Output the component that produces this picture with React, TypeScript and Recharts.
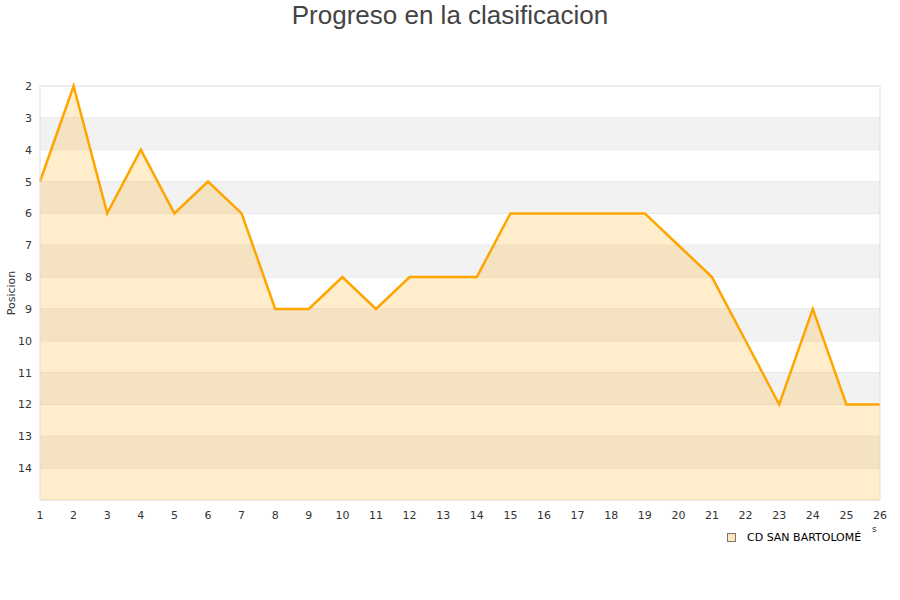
import { AreaChart, Area, XAxis, YAxis, CartesianGrid, ReferenceArea, ReferenceLine } from "recharts";

const jornadas = [1, 2, 3, 4, 5, 6, 7, 8, 9, 10, 11, 12, 13, 14, 15, 16, 17, 18, 19, 20, 21, 22, 23, 24, 25, 26];
const posiciones = [5, 2, 6, 4, 6, 5, 6, 9, 9, 8, 9, 8, 8, 8, 6, 6, 6, 6, 6, 7, 8, 10, 12, 9, 12, 12];
const yTicks = [2, 3, 4, 5, 6, 7, 8, 9, 10, 11, 12, 13, 14, 15];
const bands = [3, 5, 7, 9, 11, 13];

const data = jornadas.map((j, i) => ({ jornada: j, pos: posiciones[i] }));

const FONT = "DejaVu Sans, sans-serif";

const YTick = ({ x, y, payload }: any) => {
  if (payload.value === 15) return null;
  return (
    <text x={x} y={y} dy={4} textAnchor="end" fontSize={11} fill="#333" fontFamily={FONT}>
      {payload.value}
    </text>
  );
};

const XTick = ({ x, y, payload }: any) => (
  <text x={x} y={y} dy={11} textAnchor="middle" fontSize={11} fill="#333" fontFamily={FONT}>
    {payload.value}
  </text>
);

const YLabel = ({ viewBox }: any) => {
  const cy = viewBox.y + viewBox.height / 2;
  return (
    <text x={11} y={cy} transform={`rotate(-90 11 ${cy})`} textAnchor="middle" dominantBaseline="central" fontSize={11} fill="#333" fontFamily={FONT}>
      Posicion
    </text>
  );
};

export default function App() {
  return (
    <div style={{ position: "absolute", left: 0, top: 0, width: 900, height: 600, background: "#fff" }}>
      <div
        style={{
          position: "absolute",
          top: 0,
          width: 900,
          textAlign: "center",
          fontFamily: "Liberation Sans, Arial, sans-serif",
          fontSize: 26,
          color: "#444",
          lineHeight: "30px",
        }}
      >
        Progreso en la clasificacion
      </div>
      <AreaChart width={900} height={600} data={data} margin={{ top: 86, right: 20, bottom: 70, left: 10 }}>
        {bands.map((b) => (
          <ReferenceArea key={b} y1={b} y2={b + 1} fill="#f2f2f2" fillOpacity={1} stroke="none" />
        ))}
        <CartesianGrid vertical={false} stroke="#dddddd" strokeDasharray="" />
        <ReferenceLine x={1} stroke="#dddddd" />
        <ReferenceLine x={26} stroke="#dddddd" />
        <XAxis
          dataKey="jornada"
          type="number"
          domain={[1, 26]}
          ticks={jornadas}
          interval={0}
          axisLine={false}
          tickLine={false}
          tick={<XTick />}
        />
        <YAxis
          type="number"
          reversed
          domain={[2, 15]}
          ticks={yTicks}
          interval={0}
          width={30}
          axisLine={false}
          tickLine={false}
          tick={<YTick />}
          label={<YLabel />}
        />
        <Area
          type="linear"
          dataKey="pos"
          name="CD SAN BARTOLOMÉ"
          baseValue={15}
          stroke="#ffa500"
          strokeWidth={2.5}
          fill="#ffa500"
          fillOpacity={0.2}
          dot={false}
          activeDot={false}
          isAnimationActive={false}
        />
      </AreaChart>
      <div
        style={{
          position: "absolute",
          left: 727,
          top: 531,
          display: "flex",
          alignItems: "center",
          fontFamily: FONT,
          fontSize: 11,
          color: "#000",
        }}
      >
        <span style={{ width: 7, height: 7, border: "1px solid #777", background: "#ffe7bd", marginRight: 11 }} />
        CD SAN BARTOLOMÉ
      </div>
      <div style={{ position: "absolute", left: 872, top: 524, fontFamily: FONT, fontSize: 9, color: "#333" }}>s</div>
    </div>
  );
}
